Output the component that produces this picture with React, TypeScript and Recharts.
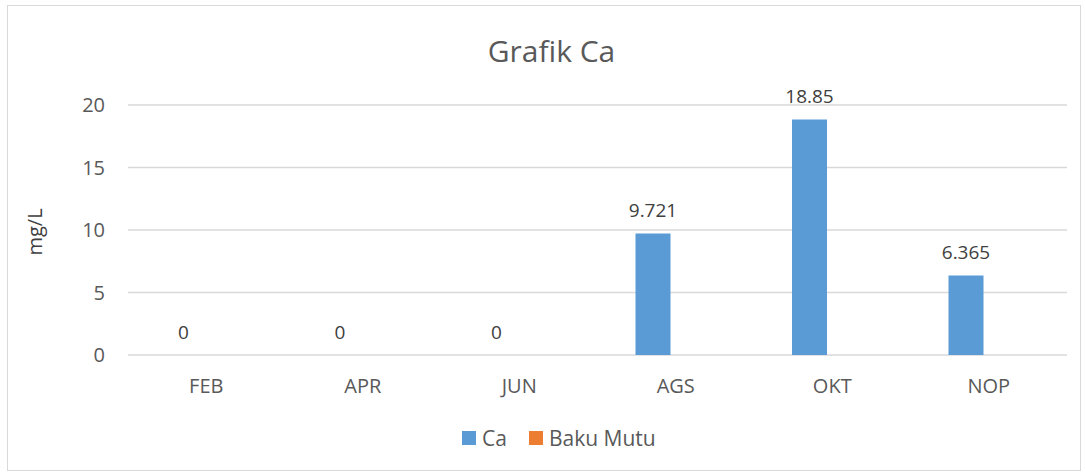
import { BarChart, Bar, XAxis, YAxis, CartesianGrid, Legend, LabelList } from "recharts";

const months = ["FEB", "APR", "JUN", "AGS", "OKT", "NOP"];
const caValues = [0, 0, 0, 9.721, 18.85, 6.365];
const bakuMutu: (number | null)[] = [null, null, null, null, null, null];
const yTicks = [0, 5, 10, 15, 20];

const data = months.map((m, i) => ({ month: m, ca: caValues[i], baku: bakuMutu[i] }));

const font = "'Open Sans', sans-serif";
const textColor = "#595959";
const caColor = "#5b9bd5";
const bakuColor = "#ed7d31";

function TopLabel(props: any) {
  const { x, y, width, value } = props;
  if (value === null || value === undefined) return null;
  return (
    <text x={Number(x) + Number(width) / 2} y={Number(y) - 16} textAnchor="middle" fill="#404040" fontSize={19} fontFamily={font}>
      {value}
    </text>
  );
}

function LegendBox() {
  const items = [
    { name: "Ca", color: caColor },
    { name: "Baku Mutu", color: bakuColor },
  ];
  return (
    <div style={{ display: "flex", alignItems: "center", height: 30, paddingLeft: 462, fontFamily: font, fontSize: 21, color: textColor }}>
      {items.map((it) => (
        <div key={it.name} style={{ display: "flex", alignItems: "center", marginRight: 22 }}>
          <span style={{ display: "inline-block", width: 14, height: 14, background: it.color, marginRight: 6 }} />
          <span>{it.name}</span>
        </div>
      ))}
    </div>
  );
}

export default function App() {
  return (
    <div style={{ position: "fixed", left: 0, top: 0, width: 1085, height: 474, background: "#fff", fontFamily: font }}>
      <div style={{ position: "absolute", left: 7, top: 5, width: 1072, height: 464, border: "1px solid #d9d9d9" }} />
      <div style={{ position: "absolute", left: 0, width: 1103, top: 30, textAlign: "center", fontSize: 30, color: textColor }}>
        Grafik Ca
      </div>
      <div
        style={{
          position: "absolute", left: 34, top: 232, fontSize: 20, color: "#404040",
          transform: "translate(-50%, -50%) rotate(-90deg)", whiteSpace: "nowrap",
        }}
      >
        mg/L
      </div>
      <BarChart
        width={1085}
        height={474}
        data={data}
        margin={{ top: 105, right: 18, left: 0, bottom: 21 }}
        barSize={35}
        barGap={10}
        style={{ position: "absolute", left: 0, top: 0 }}
      >
        <CartesianGrid vertical={false} stroke="#d9d9d9" strokeWidth={1.5} />
        <XAxis
          dataKey="month"
          axisLine={false}
          tickLine={false}
          tickSize={0}
          tickMargin={24}
          height={68}
          tick={{ fill: textColor, fontSize: 20, fontFamily: font }}
        />
        <YAxis
          width={128}
          domain={[0, 20]}
          ticks={yTicks}
          axisLine={false}
          tickLine={false}
          tickSize={0}
          tickMargin={23}
          tick={{ fill: textColor, fontSize: 20, fontFamily: font }}
        />
        <Legend verticalAlign="bottom" content={<LegendBox />} wrapperStyle={{ left: 0, width: 1085 }} />
        <Bar dataKey="ca" name="Ca" fill={caColor} minPointSize={0.1} isAnimationActive={false}>
          <LabelList dataKey="ca" content={<TopLabel />} />
        </Bar>
        <Bar dataKey="baku" name="Baku Mutu" fill={bakuColor} isAnimationActive={false} />
      </BarChart>
    </div>
  );
}
